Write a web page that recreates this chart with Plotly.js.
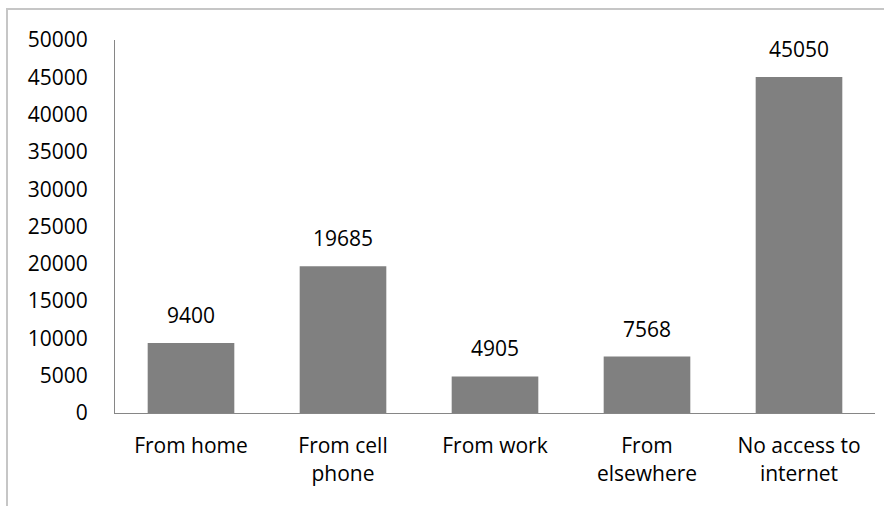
<!DOCTYPE html>
<html>
<head>
<meta charset="utf-8">
<script src="https://cdn.plot.ly/plotly-3.0.1.min.js"></script>
<style>
html,body{margin:0;padding:0;background:#fff;}
#wrap{position:relative;width:884px;height:506px;}
#chart{position:absolute;left:0;top:0;width:884px;height:506px;}
#frame{position:absolute;left:6px;top:8px;right:-2px;bottom:-2px;border-left:2px solid #c6c6c6;border-top:2px solid #c6c6c6;pointer-events:none;}
</style>
</head>
<body>
<div id="wrap">
<div id="chart"></div>
<div id="frame"></div>
</div>
<script>
const categories = ["From home", "From cell<br>phone", "From work", "From<br>elsewhere", "No access to<br>internet"];
const values = [9400, 19685, 4905, 7568, 45050];
const yTickValues = [0, 5000, 10000, 15000, 20000, 25000, 30000, 35000, 40000, 45000, 50000];

const font = {family: "'Open Sans', sans-serif", size: 21, color: "#000"};

const trace = {
  type: "bar",
  x: categories,
  y: values,
  marker: {color: "#808080"},
  width: 0.57,
  hoverinfo: "skip"
};

const annotations = categories.map((c, i) => ({
  x: c, y: values[i], xref: "x", yref: "y",
  text: String(values[i]),
  showarrow: false,
  yanchor: "bottom",
  yshift: 12,
  font: font
}));

const layout = {
  width: 884, height: 506,
  margin: {l: 115, r: 9, t: 40, b: 93, pad: 0},
  paper_bgcolor: "#fff", plot_bgcolor: "#fff",
  font: font,
  showlegend: false,
  bargap: 0.43,
  xaxis: {
    type: "category",
    showline: true, linecolor: "#868686", linewidth: 1,
    showgrid: false, zeroline: false, ticks: "",
    tickfont: font,
    ticklabelstandoff: 14
  },
  yaxis: {
    range: [0, 50000],
    tickvals: yTickValues,
    ticktext: yTickValues.map(String),
    showline: true, linecolor: "#868686", linewidth: 1,
    showgrid: false, zeroline: false, ticks: "",
    tickfont: font,
    ticklabelstandoff: 22
  },
  annotations: annotations
};

Plotly.newPlot("chart", [trace], layout, {staticPlot: true, displayModeBar: false});
</script>
</body>
</html>
